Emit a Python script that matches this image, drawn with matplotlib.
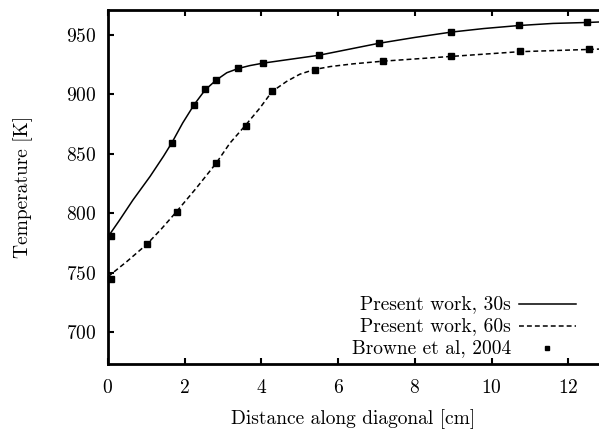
"""
Temperature along diagonal: present work vs Browne et al (2004)
"""

import matplotlib
matplotlib.use("Agg")
import matplotlib.pyplot as plt

plt.rcParams["font.family"] = ["cmr10", "DejaVu Serif"]
plt.rcParams["mathtext.fontset"] = "cm"
plt.rcParams["axes.formatter.use_mathtext"] = True

# Present work, 30s (curve)
x_30s = [0.0, 0.3, 0.65, 1.1, 1.45, 1.67, 1.95, 2.25, 2.4, 2.54, 2.82, 3.1,
         3.4, 3.7, 4.05, 5.5, 7.05, 8.0, 8.95, 9.8, 10.7, 11.6, 12.5, 12.8]
t_30s = [780.0, 794.0, 811.0, 831.0, 848.0, 859.5, 876.0, 891.5, 898.0, 904.0,
         912.0, 918.3, 921.9, 924.3, 926.4, 933.0, 943.0, 948.0, 952.5, 955.5,
         958.0, 959.8, 960.6, 961.0]

# Present work, 60s
x_60s = [0.0, 0.5, 1.02, 1.4, 1.78, 2.3, 2.82, 3.18, 3.58, 3.96, 4.28, 4.66,
         5.0, 5.38, 5.8, 6.4, 7.16, 8.94, 10.73, 12.53, 12.8]
t_60s = [746.5, 759.5, 774.0, 787.0, 801.0, 821.0, 842.0, 859.0, 873.8, 888.5,
         902.5, 911.0, 917.0, 921.0, 923.5, 925.8, 928.0, 932.0, 936.0, 937.9,
         938.2]

# Browne et al, 2004 measurements
x_exp_30 = [0.08, 1.67, 2.25, 2.54, 2.82, 3.40, 4.05, 5.49, 7.06, 8.94, 10.72, 12.49]
t_exp_30 = [780.5, 859.5, 891.5, 904.2, 912.1, 921.9, 926.4, 932.8, 942.9, 952.5, 958.1, 960.6]
x_exp_60 = [0.08, 1.03, 1.79, 2.83, 3.59, 4.29, 5.39, 7.16, 8.94, 10.73, 12.53]
t_exp_60 = [744.4, 773.9, 801.1, 842.1, 873.8, 902.5, 920.8, 927.8, 932.0, 936.2, 937.9]

fig = plt.figure(figsize=(5.99, 4.33), dpi=100)
ax = fig.add_axes([0.1801, 0.1605, 0.8199, 0.8175])

ax.plot(x_30s, t_30s, color="black", linewidth=1.1, solid_joinstyle="round")
ax.plot(x_60s, t_60s, color="black", linewidth=1.1, dashes=(3.2, 2.0))
ax.plot(x_exp_30, t_exp_30, linestyle="none", marker="s", markersize=4.8,
        color="black", clip_on=False)
ax.plot(x_exp_60, t_exp_60, linestyle="none", marker="s", markersize=4.8,
        color="black", clip_on=False)

ax.set_xlim(0, 12.8)
ax.set_ylim(673.5, 971.5)
ax.set_xticks([0, 2, 4, 6, 8, 10, 12])
ax.set_yticks([700, 750, 800, 850, 900, 950])

# the right border is cut off in the original picture
ax.spines["right"].set_visible(False)
for name in ["left", "top", "bottom"]:
    ax.spines[name].set_linewidth(2.0)
ax.tick_params(axis="both", direction="in", length=4, width=1.5,
               labelsize=14, top=True, right=False)
ax.tick_params(axis="x", pad=11)
ax.tick_params(axis="y", pad=8)

ax.set_xlabel("Distance along diagonal [cm]", fontsize=14, labelpad=9)
ax.set_ylabel("Temperature [K]", fontsize=14, labelpad=24)

# gnuplot style key: text right aligned, sample on the right
key_text_x = 0.821
key_x0, key_x1 = 0.8366, 0.9527
key_rows = [0.1672, 0.1051, 0.0446]
ax.text(key_text_x, key_rows[0], "Present work, 30s", transform=ax.transAxes,
        ha="right", va="center", fontsize=14)
ax.plot([key_x0, key_x1], [key_rows[0]] * 2, color="black", linewidth=1.1,
        transform=ax.transAxes)
ax.text(key_text_x, key_rows[1], "Present work, 60s", transform=ax.transAxes,
        ha="right", va="center", fontsize=14)
ax.plot([key_x0, key_x1], [key_rows[1]] * 2, color="black", linewidth=1.1,
        dashes=(3.2, 2.0), transform=ax.transAxes)
ax.text(key_text_x, key_rows[2], "Browne et al, 2004", transform=ax.transAxes,
        ha="right", va="center", fontsize=14)
ax.plot([(key_x0 + key_x1) / 2], [key_rows[2]], marker="s", markersize=3.4,
        color="black", transform=ax.transAxes)

fig.savefig("out.png", dpi=100)
